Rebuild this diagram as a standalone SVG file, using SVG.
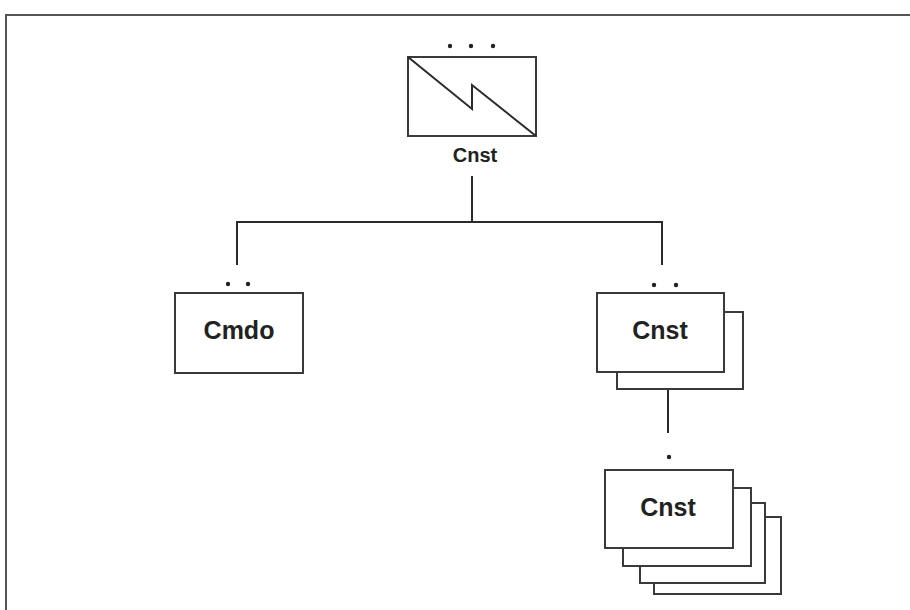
<svg xmlns="http://www.w3.org/2000/svg" width="910" height="610" viewBox="0 0 910 610">
<style>
.box{fill:#fff;stroke:#3a3a3a;stroke-width:2}
.ln{fill:none;stroke:#2a2a2a;stroke-width:2}
.dot{fill:#222}
.t{font-family:"Liberation Sans",Arial,sans-serif;font-weight:bold;fill:#222;text-anchor:middle}
</style>
<rect x="0" y="0" width="910" height="610" fill="#fff"/>
<rect x="6" y="15" width="920" height="620" fill="none" stroke="#555" stroke-width="2"/>
<g id="connectors">
<path class="ln" d="M472,176 V222 M237,265 V222 H662 V265"/>
<path class="ln" d="M668,389 V433"/>
</g>
<g id="top">
<rect class="box" x="408" y="57" width="128" height="79"/>
<path class="ln" d="M408,57 L472,109 L472,85 L536,136"/>
<circle class="dot" cx="450" cy="46" r="2.2"/>
<circle class="dot" cx="471" cy="46" r="2.2"/>
<circle class="dot" cx="493" cy="46" r="2.2"/>
<text class="t" x="475" y="162" font-size="20">Cnst</text>
</g>
<g id="cmdo">
<rect class="box" x="175" y="293" width="128" height="80"/>
<circle class="dot" cx="228" cy="284" r="2.2"/>
<circle class="dot" cx="248" cy="284" r="2.2"/>
<text class="t" x="239" y="339" font-size="25">Cmdo</text>
</g>
<g id="cnst1">
<rect class="box" x="617" y="312" width="126" height="77"/>
<rect class="box" x="597" y="293" width="127" height="79"/>
<circle class="dot" cx="654" cy="285" r="2.2"/>
<circle class="dot" cx="676" cy="285" r="2.2"/>
<text class="t" x="660" y="339" font-size="25">Cnst</text>
</g>
<g id="cnst2">
<rect class="box" x="654" y="517" width="127" height="77"/>
<rect class="box" x="640" y="503" width="125" height="80"/>
<rect class="box" x="623" y="488" width="128" height="78"/>
<rect class="box" x="605" y="470" width="128" height="78"/>
<circle class="dot" cx="669" cy="457" r="2.2"/>
<text class="t" x="668" y="516" font-size="25">Cnst</text>
</g>
</svg>
